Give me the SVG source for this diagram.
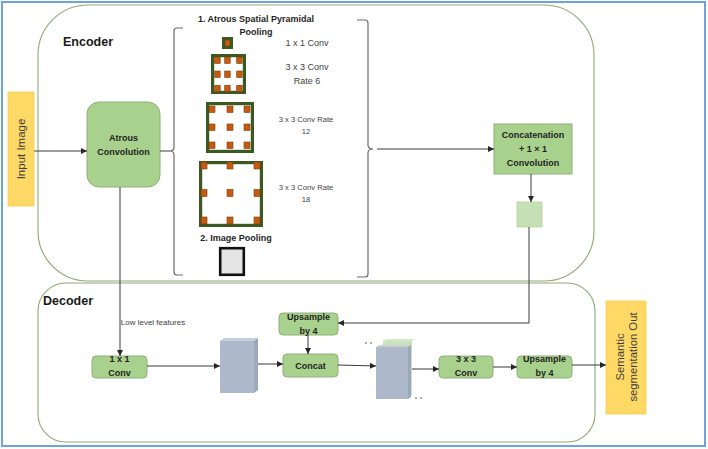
<svg xmlns="http://www.w3.org/2000/svg" width="708" height="449" viewBox="0 0 708 449">
<defs>
<marker id="arr" markerUnits="userSpaceOnUse" markerWidth="6" markerHeight="6" refX="6" refY="3" orient="auto">
<path d="M0,0 L6,3 L0,6 z" fill="#262626"/>
</marker>
<style>
.lbl{font-family:"Liberation Sans",Arial,sans-serif;fill:#1f1f1f;font-weight:bold;font-size:9px;text-anchor:middle;dominant-baseline:central}
.txt{font-family:"Liberation Sans",Arial,sans-serif;fill:#3f3f3f;text-anchor:middle;dominant-baseline:central}
.hd{font-family:"Liberation Sans",Arial,sans-serif;fill:#1a1a1a;font-weight:bold;font-size:12.5px}
.gbox{fill:#A9D18E;stroke:#8FB07A;stroke-width:1}
.ybox{fill:#FFD966;stroke:#F7CB4D;stroke-width:0.8}
.frame{fill:#ffffff;stroke:#3A5A22;stroke-width:3.2}
.dot{fill:#C55A11;stroke:#7F3A0C;stroke-width:0.6}
.region{fill:none;stroke:#8FA877;stroke-width:1.1}
.conn{fill:none;stroke:#3a3a3a;stroke-width:1}
.brace{fill:none;stroke:#6b6b6b;stroke-width:1.2}
</style>
</defs>
<rect x="0" y="0" width="708" height="449" fill="#ffffff"/>
<rect x="2" y="2" width="703" height="444" fill="none" stroke="#6FA3DC" stroke-width="2"/>

<g id="encoder">
<rect class="region" x="38" y="5" width="556" height="276" rx="50" ry="50"/>
<text class="hd" x="63" y="46">Encoder</text>
</g>
<g id="decoder">
<rect class="region" x="38" y="283" width="557" height="159" rx="28" ry="28"/>
<text class="hd" x="43" y="305">Decoder</text>
</g>

<g id="input-image">
<rect class="ybox" x="8" y="92" width="26" height="114" stroke="none"/>
<text class="txt" font-size="11.5" transform="translate(21,149) rotate(-90)" x="0" y="0">Input Image</text>
</g>

<g id="atrous-convolution">
<rect class="gbox" x="87" y="102" width="73" height="85" rx="12" ry="12" stroke="#9DB98C"/>
<text class="lbl" x="123.5" y="138">Atrous</text>
<text class="lbl" x="123.5" y="152">Convolution</text>
</g>

<g id="aspp">
<text class="lbl" font-size="8.8" x="256" y="19">1. Atrous Spatial Pyramidal</text>
<text class="lbl" font-size="8.8" x="256" y="32">Pooling</text>
<path class="brace" d="M183,28 H177 Q174,28 174,31 V147 Q174,151 170,151 Q174,151 174,155 V272 Q174,275 177,275 H183"/>
<path class="brace" d="M357,20 H365 Q368,20 368,23 V145 Q368,149 373,149 Q368,149 368,153 V274 Q368,277 365,277 H357"/>
</g>

<g id="conv-1x1">
<rect x="222" y="37" width="11" height="12" fill="#3A5A22"/>
<rect class="dot" x="225" y="40" width="5" height="6"/>
<text class="txt" font-size="9" x="307" y="43">1 x 1 Conv</text>
</g>

<g id="conv-3x3-rate6">
<rect class="frame" x="212.6" y="55.6" width="31.8" height="36.8"/>
<rect class="dot" x="214.7" y="57" width="5.5" height="6.5"/>
<rect class="dot" x="224.7" y="57" width="5.5" height="6.5"/>
<rect class="dot" x="236.7" y="57" width="5.5" height="6.5"/>
<rect class="dot" x="214.7" y="71" width="5.5" height="6.5"/>
<rect class="dot" x="224.7" y="71" width="5.5" height="6.5"/>
<rect class="dot" x="236.7" y="71" width="5.5" height="6.5"/>
<rect class="dot" x="214.7" y="85.3" width="5.5" height="6.5"/>
<rect class="dot" x="224.7" y="85.3" width="5.5" height="6.5"/>
<rect class="dot" x="236.7" y="85.3" width="5.5" height="6.5"/>
<text class="txt" font-size="9" x="307" y="67">3 x 3 Conv</text>
<text class="txt" font-size="9" x="307" y="81">Rate 6</text>
</g>

<g id="conv-3x3-rate12">
<rect class="frame" x="207.6" y="103.6" width="44.8" height="47.8"/>
<rect class="dot" x="209" y="106" width="6" height="6.5"/>
<rect class="dot" x="227" y="106" width="6" height="6.5"/>
<rect class="dot" x="244" y="106" width="6" height="6.5"/>
<rect class="dot" x="209" y="124" width="6" height="6.5"/>
<rect class="dot" x="227" y="124" width="6" height="6.5"/>
<rect class="dot" x="244" y="124" width="6" height="6.5"/>
<rect class="dot" x="209" y="142" width="6" height="6.5"/>
<rect class="dot" x="227" y="142" width="6" height="6.5"/>
<rect class="dot" x="244" y="142" width="6" height="6.5"/>
<text class="txt" font-size="7.6" x="306" y="119">3 x 3 Conv Rate</text>
<text class="txt" font-size="7.6" x="306" y="131">12</text>
</g>

<g id="conv-3x3-rate18">
<rect class="frame" x="200.6" y="162.6" width="60.8" height="62.8"/>
<rect class="dot" x="201" y="162" width="6" height="7"/>
<rect class="dot" x="227" y="162" width="6" height="7"/>
<rect class="dot" x="254" y="162" width="6" height="7"/>
<rect class="dot" x="201" y="189.5" width="6" height="7"/>
<rect class="dot" x="227" y="189.5" width="6" height="7"/>
<rect class="dot" x="254" y="189.5" width="6" height="7"/>
<rect class="dot" x="201" y="217" width="6" height="7"/>
<rect class="dot" x="227" y="217" width="6" height="7"/>
<rect class="dot" x="254" y="217" width="6" height="7"/>
<text class="txt" font-size="7.6" x="306" y="187">3 x 3 Conv Rate</text>
<text class="txt" font-size="7.6" x="306" y="199">18</text>
</g>

<g id="image-pooling">
<text class="lbl" font-size="8.8" x="236" y="238">2. Image Pooling</text>
<rect x="220.2" y="248.2" width="23.6" height="26.6" fill="#E4E4E4" stroke="#111111" stroke-width="2.6"/>
</g>

<g id="concatenation">
<rect class="gbox" x="494" y="124" width="78" height="50"/>
<text class="lbl" x="533" y="135">Concatenation</text>
<text class="lbl" x="533" y="149">+ 1 × 1</text>
<text class="lbl" x="533" y="163">Convolution</text>
</g>

<g id="encoder-output">
<rect x="517" y="202" width="25" height="25" fill="#C5E0B4" stroke="#B7D4A3" stroke-width="0.8"/>
</g>

<g id="upsample-top">
<rect class="gbox" x="279" y="313" width="59" height="22" rx="4" ry="4"/>
<text class="lbl" x="308.5" y="317">Upsample</text>
<text class="lbl" x="308.5" y="331">by 4</text>
</g>

<g id="low-level-label">
<text class="txt" font-size="8" fill="#595959" x="153" y="322">Low level features</text>
</g>

<g id="conv1x1-dec">
<rect class="gbox" x="92" y="356" width="55" height="22" rx="4" ry="4"/>
<text class="lbl" x="119.5" y="359">1 x 1</text>
<text class="lbl" x="119.5" y="373">Conv</text>
</g>

<g id="feature-block-1">
<polygon points="220,341 224,338 258,338 254,341" fill="#C6CEDA"/>
<polygon points="254,341 258,338 258,390 254,393" fill="#9CA8BB"/>
<rect x="220" y="341" width="34" height="52" fill="#ADB9CA"/>
</g>

<g id="concat">
<rect class="gbox" x="283" y="354" width="55" height="23" rx="4" ry="4"/>
<text class="lbl" x="310.5" y="365.5">Concat</text>
</g>

<g id="feature-block-2">
<polygon points="383,341 386,339 415,339 412,341" fill="#D6E8CA"/>
<rect x="383" y="341" width="29" height="54" fill="#C9E2B9"/>
<polygon points="376,347 379,345 411,345 408,347" fill="#C6CEDA"/>
<polygon points="408,347 411,345 411,397 408,399" fill="#9CA8BB"/>
<rect x="376" y="347" width="32" height="52" fill="#ADB9CA"/>
<circle cx="366" cy="343" r="0.8" fill="#444"/>
<circle cx="371" cy="343" r="0.8" fill="#444"/>
<circle cx="416" cy="398" r="0.8" fill="#444"/>
<circle cx="421" cy="398" r="0.8" fill="#444"/>
</g>

<g id="conv3x3-dec">
<rect class="gbox" x="439" y="356" width="54" height="22" rx="4" ry="4"/>
<text class="lbl" x="466" y="359">3 x 3</text>
<text class="lbl" x="466" y="373">Conv</text>
</g>

<g id="upsample-bottom">
<rect class="gbox" x="517" y="356" width="55" height="22" rx="4" ry="4"/>
<text class="lbl" x="544.5" y="359">Upsample</text>
<text class="lbl" x="544.5" y="373">by 4</text>
</g>

<g id="semantic-output">
<rect class="ybox" x="606" y="301" width="40" height="113"/>
<text class="txt" font-size="11.3" transform="translate(626,357) rotate(-90)"><tspan x="0" y="-6">Semantic</tspan><tspan x="0" y="7">segmentation Out</tspan></text>
</g>

<g id="connectors">
<path class="conn" d="M34,151 H87" marker-end="url(#arr)"/>
<path class="conn" d="M160,151 H170"/>
<path class="conn" d="M377,149 H494" marker-end="url(#arr)"/>
<path class="conn" d="M531,174 V202" marker-end="url(#arr)"/>
<path class="conn" d="M529,227 V323 H338" marker-end="url(#arr)"/>
<path class="conn" d="M120,187 V356" marker-end="url(#arr)"/>
<path class="conn" d="M147,366 H220" marker-end="url(#arr)"/>
<path class="conn" d="M258,364 H283" marker-end="url(#arr)"/>
<path class="conn" d="M308,335 V354" marker-end="url(#arr)"/>
<path class="conn" d="M338,365 L376,366" marker-end="url(#arr)"/>
<path class="conn" d="M412,369 H439" marker-end="url(#arr)"/>
<path class="conn" d="M493,367 H517" marker-end="url(#arr)"/>
<path class="conn" d="M572,365 H606" marker-end="url(#arr)"/>
</g>
</svg>
